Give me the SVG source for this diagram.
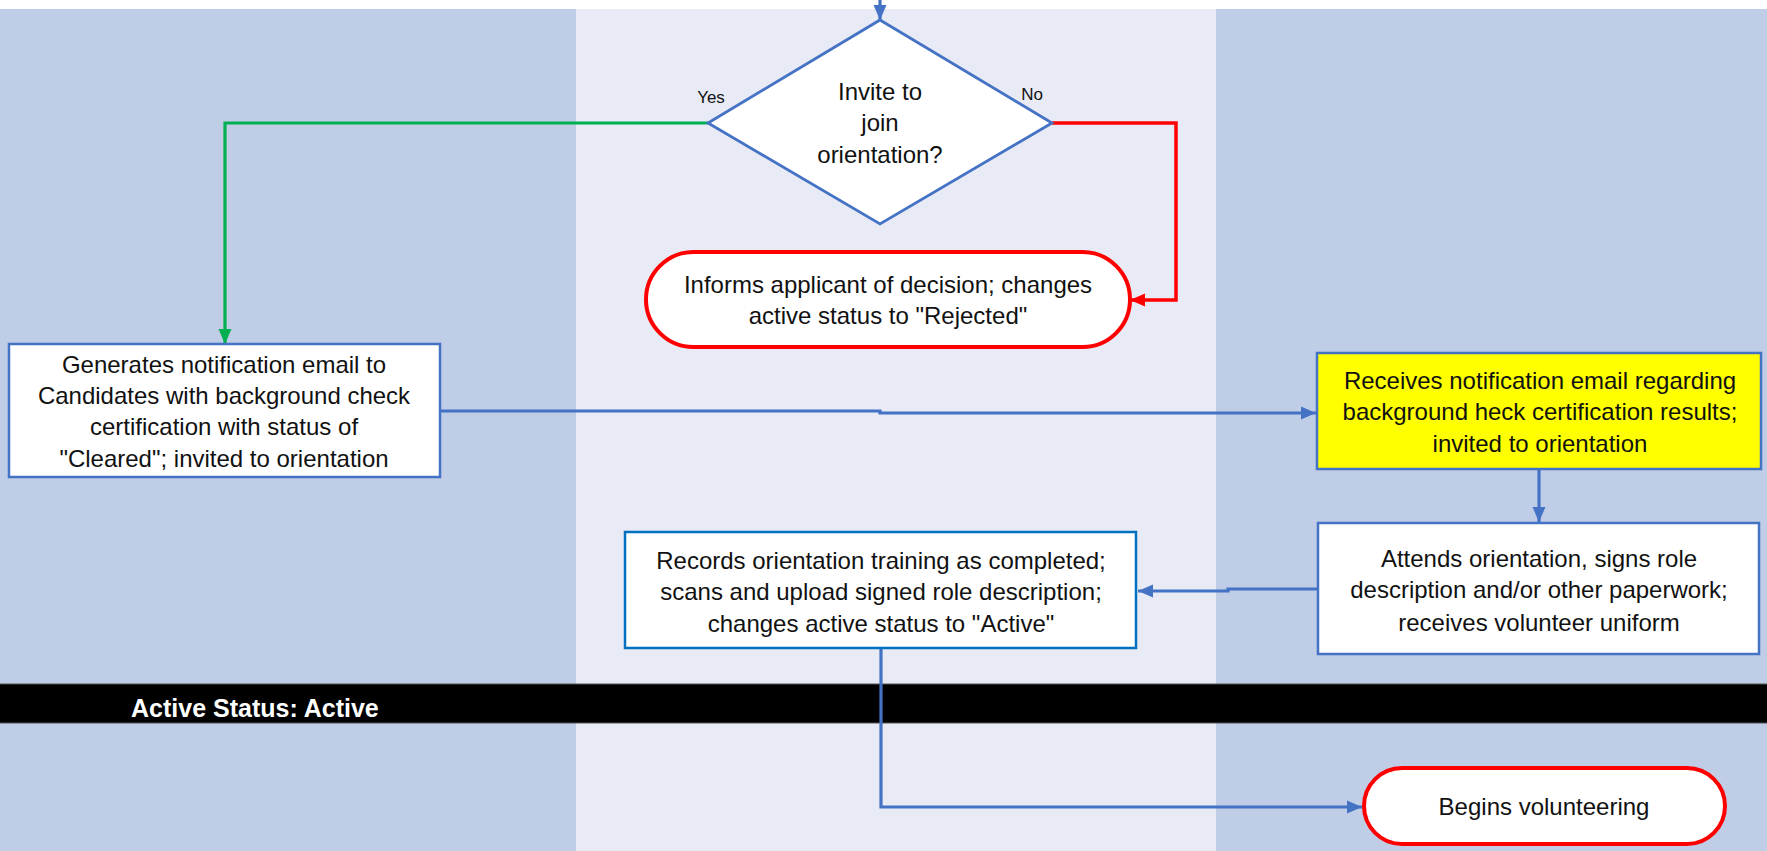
<svg xmlns="http://www.w3.org/2000/svg" width="1767" height="851" viewBox="0 0 1767 851">
  <style>
    .lane-side { fill: #BFCDE7; }
    .lane-mid { fill: #E8EBF5; }
    .box { fill: #FFFFFF; stroke: #4472C4; stroke-width: 2.5; }
    .box-rec { fill: #FFFFFF; stroke: #0070C0; stroke-width: 2.5; }
    .box-hl { fill: #FFFF00; stroke: #4472C4; stroke-width: 2.5; }
    .term { fill: #FFFFFF; stroke: #FF0000; stroke-width: 4; }
    .lbl { font-family: "Liberation Sans", Arial, sans-serif; font-size: 24px; fill: #111111; text-anchor: middle; }
    .small { font-family: "Liberation Sans", Arial, sans-serif; font-size: 17px; fill: #111111; text-anchor: middle; }
    .band-text { font-family: "Liberation Sans", Arial, sans-serif; font-size: 25px; font-weight: bold; fill: #FFFFFF; }
    .c-blue { fill: none; stroke: #4472C4; stroke-width: 3.2; }
    .c-green { fill: none; stroke: #00B050; stroke-width: 3.2; }
    .c-red { fill: none; stroke: #FF0000; stroke-width: 3.5; }
  </style>
  <defs>
    <marker id="ah-blue" markerUnits="userSpaceOnUse" markerWidth="16" markerHeight="16" viewBox="0 0 16 16" refX="15" refY="8" orient="auto">
      <path d="M0,1.5 L15,8 L0,14.5 Z" fill="#4472C4"/>
    </marker>
    <marker id="ah-green" markerUnits="userSpaceOnUse" markerWidth="16" markerHeight="16" viewBox="0 0 16 16" refX="15" refY="8" orient="auto">
      <path d="M0,1.5 L15,8 L0,14.5 Z" fill="#00B050"/>
    </marker>
    <marker id="ah-red" markerUnits="userSpaceOnUse" markerWidth="16" markerHeight="16" viewBox="0 0 16 16" refX="15" refY="8" orient="auto">
      <path d="M0,1.5 L15,8 L0,14.5 Z" fill="#FF0000"/>
    </marker>
  </defs>

  <!-- page background and swimlanes -->
  <rect x="0" y="0" width="1767" height="851" fill="#FFFFFF"/>
  <g id="lanes">
    <rect class="lane-side" x="0" y="9" width="576" height="842"/>
    <rect class="lane-mid" x="576" y="9" width="640" height="842"/>
    <rect class="lane-side" x="1216" y="9" width="551" height="842"/>
  </g>

  <!-- status band -->
  <g id="status-band">
    <rect x="0" y="684" width="1767" height="39" fill="#000000"/>
    <line x1="0" y1="684" x2="1767" y2="684" stroke="#555555" stroke-width="1"/>
    <line x1="0" y1="723" x2="1767" y2="723" stroke="#555555" stroke-width="1"/>
    <text class="band-text" x="131" y="717">Active Status: Active</text>
  </g>

  <!-- connectors -->
  <g id="connectors">
    <path class="c-blue" d="M880,0 V20" marker-end="url(#ah-blue)"/>
    <path class="c-green" d="M708,123 H225 V344" marker-end="url(#ah-green)"/>
    <path class="c-red" d="M1052,123 H1176 V300 H1130" marker-end="url(#ah-red)"/>
    <path class="c-blue" d="M440,411 H880 V413 H1316" marker-end="url(#ah-blue)"/>
    <path class="c-blue" d="M1539,470 V522" marker-end="url(#ah-blue)"/>
    <path class="c-blue" d="M1318,589 H1228 V591 H1138" marker-end="url(#ah-blue)"/>
    <path class="c-blue" d="M881,648 V807 H1362" marker-end="url(#ah-blue)"/>
  </g>

  <!-- decision -->
  <g id="decision-invite">
    <polygon points="880,20 1052,123 880,224 708,123" fill="#FFFFFF" stroke="#4472C4" stroke-width="2.8"/>
    <text class="lbl" x="880" y="100">Invite to</text>
    <text class="lbl" x="880" y="131">join</text>
    <text class="lbl" x="880" y="163">orientation?</text>
    <text class="small" x="711" y="103">Yes</text>
    <text class="small" x="1032" y="100">No</text>
  </g>

  <!-- rejected terminator -->
  <g id="term-rejected">
    <rect class="term" x="646" y="252" width="484" height="95" rx="47.5" ry="47.5"/>
    <text class="lbl" x="888" y="293">Informs applicant of decision; changes</text>
    <text class="lbl" x="888" y="324">active status to "Rejected"</text>
  </g>

  <!-- notification email -->
  <g id="box-generate">
    <rect class="box" x="9" y="344" width="431" height="133"/>
    <text class="lbl" x="224" y="373">Generates notification email to</text>
    <text class="lbl" x="224" y="404">Candidates with background check</text>
    <text class="lbl" x="224" y="435">certification with status of</text>
    <text class="lbl" x="224" y="467">"Cleared"; invited to orientation</text>
  </g>

  <!-- receives email -->
  <g id="box-receive">
    <rect class="box-hl" x="1317" y="353" width="444" height="116"/>
    <text class="lbl" x="1540" y="389">Receives notification email regarding</text>
    <text class="lbl" x="1540" y="420">background heck certification results;</text>
    <text class="lbl" x="1540" y="452">invited to orientation</text>
  </g>

  <!-- attends orientation -->
  <g id="box-attend">
    <rect class="box" x="1318" y="523" width="441" height="131"/>
    <text class="lbl" x="1539" y="567">Attends orientation, signs role</text>
    <text class="lbl" x="1539" y="598">description and/or other paperwork;</text>
    <text class="lbl" x="1539" y="631">receives volunteer uniform</text>
  </g>

  <!-- records training -->
  <g id="box-records">
    <rect class="box-rec" x="625" y="532" width="511" height="116"/>
    <text class="lbl" x="881" y="569">Records orientation training as completed;</text>
    <text class="lbl" x="881" y="600">scans and upload signed role description;</text>
    <text class="lbl" x="881" y="632">changes active status to "Active"</text>
  </g>

  <!-- begins volunteering -->
  <g id="term-begin">
    <rect class="term" x="1364" y="768" width="361" height="76" rx="38" ry="38"/>
    <text class="lbl" x="1544" y="815">Begins volunteering</text>
  </g>
</svg>
